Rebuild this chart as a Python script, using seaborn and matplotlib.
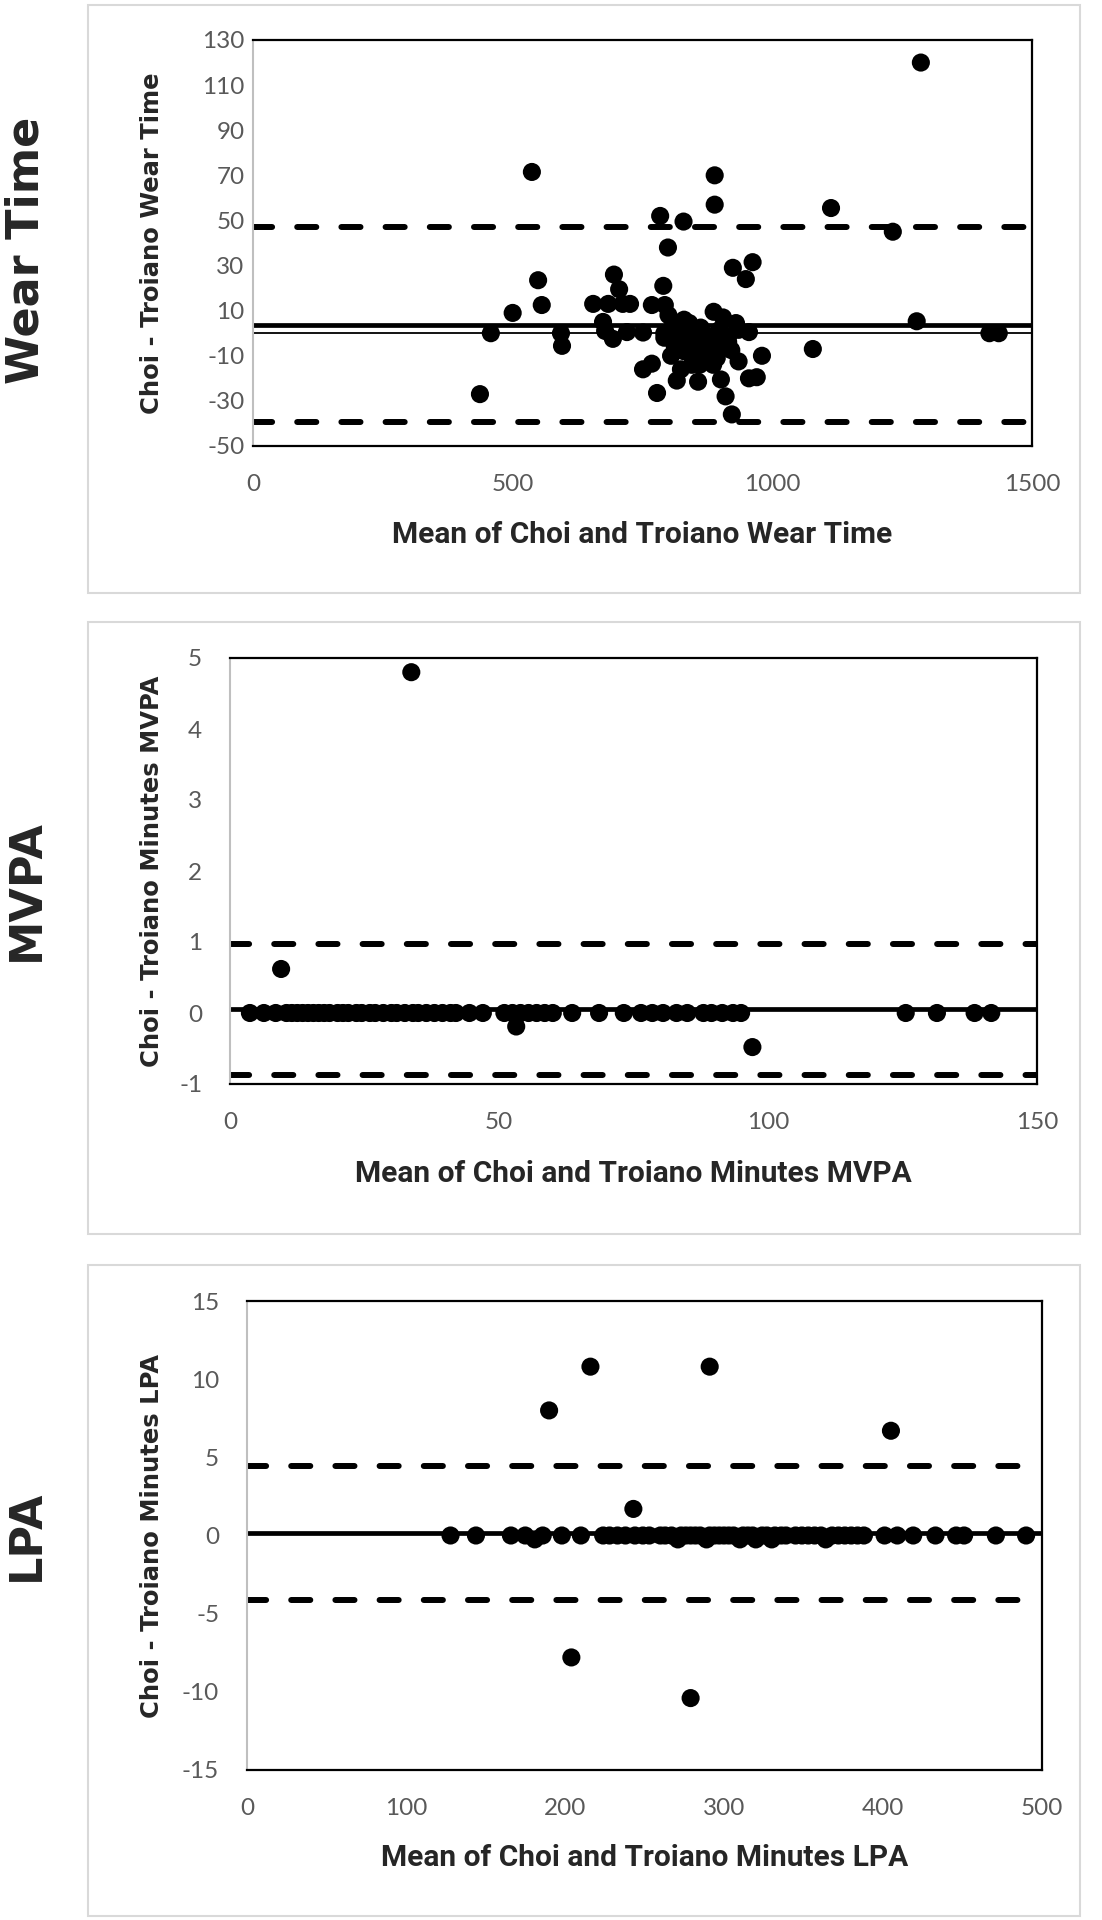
import numpy as np
import pandas as pd
import matplotlib
matplotlib.use("Agg")
import matplotlib.pyplot as plt
from matplotlib.patches import Rectangle
import seaborn as sns

# ---------------- datos ----------------
# Wear Time
wt_mean = [1286, 537, 889, 889, 784, 829, 1113, 1232, 799, 924, 962, 949, 549, 556, 500,
           458, 593, 595, 437, 695, 705, 655, 684, 712, 726, 674, 678, 693, 720, 751,
           768, 790, 793, 751, 768, 778, 816, 857, 824, 805, 800, 830, 792, 887, 898,
           930, 955, 901, 886, 910, 922, 935, 955, 970, 980, 1078, 1278, 1418, 1436, 819,
           847, 853, 874, 901, 874, 840, 880, 915, 893, 860, 874, 812, 792, 935, 921,
           915, 840, 825, 862, 905, 868, 830, 845, 808]
wt_diff = [120, 71.5, 70, 57, 52, 49.5, 55.5, 45, 38, 29, 31.5, 24, 23.5, 12.5, 9,
           0, 0, -5.6, -27, 26, 19.5, 13, 13, 13, 13, 5, 1, -2.5, 0.5, 0.3,
           12.5, 21, 12.5, -16, -13.5, -26.5, -21, -21.5, -16, -10, 8, 6, 0, 9.5, 1.4,
           4.5, 0.5, -20.5, -14, -28, -36, -12.5, -20, -19.5, -10, -7, 5.3, 0, 0, -3,
           -5.5, -11, -7.5, -5.5, -2, 0.5, -1.5, -4, -11, -14, -11.5, -5.5, -2, 1.5, -7.5,
           -1.5, 4.5, 2, 2.5, 7, -0.5, -8, -14, 3]
wt_bias, wt_upper, wt_lower = 3.8, 47.3, -39.3

# MVPA
mvpa_mean = [3.7, 6.3, 8.5, 10.5, 11.5, 12.5, 13.5, 14.5, 15.5, 16.5, 17.5, 18.5, 20, 21,
             22, 23.5, 24.5, 26, 27, 28.5, 30, 31, 32.5, 34, 35, 36.5, 38, 39.5, 41, 42,
             44.5, 47, 51, 52.5, 54, 55.5, 57, 58.5, 60, 63.6, 68.6, 73.2, 76.4, 78.5, 80.5,
             83, 85, 88, 89.5, 91.5, 93.5, 95, 125.6, 131.4, 138.4, 141.5,
             33.7, 9.5, 53.2, 97.1]
mvpa_diff = [0] * 56 + [4.8, 0.62, -0.19, -0.48]
mvpa_bias, mvpa_upper, mvpa_lower = 0.05, 0.97, -0.87

# LPA
lpa_mean = [128, 144, 166, 175, 181, 186, 198, 210, 224, 228, 233, 238, 244, 249, 253, 260,
            263, 267, 271, 273, 276, 279, 282, 285, 289, 291, 294, 297, 300, 303, 306, 310,
            312, 315, 318, 320, 324, 327, 330, 332, 336, 339, 345, 349, 353, 357, 361, 364,
            368, 372, 376, 380, 384, 388, 401, 409, 419, 433, 446, 451, 471, 490,
            190, 216, 291, 405, 243, 204, 279]
lpa_diff = [0, 0, 0, 0, -0.25, 0, 0, 0, 0, 0, 0, 0, 0, 0, 0, 0,
            0, 0, -0.25, 0, 0, 0, 0, 0, -0.25, 0, 0, 0, 0, 0, 0, -0.25,
            0, 0, 0, -0.25, 0, 0, -0.25, 0, 0, 0, 0, 0, 0, 0, 0, -0.25,
            0, 0, 0, 0, 0, 0, 0, 0, 0, 0, 0, 0, 0, 0,
            8.0, 10.8, 10.8, 6.7, 1.7, -7.8, -10.4]
lpa_bias, lpa_upper, lpa_lower = 0.15, 4.45, -4.15

paneles = [
    dict(nombre="Wear Time", x=wt_mean, y=wt_diff, bias=wt_bias, up=wt_upper, lo=wt_lower,
         xlab="Mean of Choi and Troiano Wear Time", ylab="Choi - Troiano Wear Time",
         xlim=(0, 1500), xticks=[0, 500, 1000, 1500],
         ylim=(-50, 130), yticks=list(range(-50, 131, 20)), cero=True),
    dict(nombre="MVPA", x=mvpa_mean, y=mvpa_diff, bias=mvpa_bias, up=mvpa_upper, lo=mvpa_lower,
         xlab="Mean of Choi and Troiano Minutes MVPA", ylab="Choi - Troiano Minutes MVPA",
         xlim=(0, 150), xticks=[0, 50, 100, 150],
         ylim=(-1, 5), yticks=[-1, 0, 1, 2, 3, 4, 5], cero=False),
    dict(nombre="LPA", x=lpa_mean, y=lpa_diff, bias=lpa_bias, up=lpa_upper, lo=lpa_lower,
         xlab="Mean of Choi and Troiano Minutes LPA", ylab="Choi - Troiano Minutes LPA",
         xlim=(0, 500), xticks=[0, 100, 200, 300, 400, 500],
         ylim=(-15, 15), yticks=[-15, -10, -5, 0, 5, 10, 15], cero=False),
]

# ---------------- layout (pixeles) ----------------
W, H = 1102, 1920
ejes_px = [(253, 40, 1032, 446), (230, 658, 1037, 1084), (247, 1301, 1042, 1770)]
marcos_px = [(88, 5, 1080, 593), (88, 622, 1080, 1234), (88, 1265, 1080, 1916)]
titulo_y = [250, 890, 1535]
xlab_y = [535, 1174, 1858]
ypad = [6, 20, 20]

sns.set_theme(style="white")
plt.rcParams["font.family"] = ["DejaVu Sans"]
plt.rcParams["axes.unicode_minus"] = False

fig = plt.figure(figsize=(W / 100, H / 100), dpi=100)
fig.patch.set_facecolor("white")

for i, p in enumerate(paneles):
    # marco gris del panel
    l, t, r, b = marcos_px[i]
    fig.patches.append(Rectangle((l / W, 1 - b / H), (r - l) / W, (b - t) / H,
                                 transform=fig.transFigure, fill=False,
                                 edgecolor="#d9d9d9", linewidth=1.5))
    l, t, r, b = ejes_px[i]
    ax = fig.add_axes([l / W, 1 - b / H, (r - l) / W, (b - t) / H])

    # limites de acuerdo y sesgo
    ax.axhline(p["up"], color="black", lw=4.3, ls=(0, (3.2, 4.2)), dash_capstyle="round", zorder=2)
    ax.axhline(p["lo"], color="black", lw=4.3, ls=(0, (3.2, 4.2)), dash_capstyle="round", zorder=2)
    if p["cero"]:
        ax.axhline(0, color="black", lw=1.3, zorder=2)
    ax.axhline(p["bias"], color="black", lw=3.4, zorder=2)

    df = pd.DataFrame({"m": p["x"], "d": p["y"]})
    sns.scatterplot(data=df, x="m", y="d", ax=ax, color="black", s=170,
                    edgecolor="none", linewidth=0, zorder=3, clip_on=False)

    ax.set_xlim(*p["xlim"])
    ax.set_ylim(*p["ylim"])
    ax.set_xticks(p["xticks"])
    ax.set_yticks(p["yticks"])
    ax.tick_params(length=0, labelsize=17.5, labelcolor="#595959")
    ax.tick_params(axis="x", pad=20)
    ax.tick_params(axis="y", pad=ypad[i])
    for lab in ax.get_xticklabels() + ax.get_yticklabels():
        lab.set_family(["Lato", "DejaVu Sans"])

    for lado in ["top", "right", "bottom"]:
        ax.spines[lado].set_color("black")
        ax.spines[lado].set_linewidth(1.6)
    ax.spines["left"].set_color("#bfbfbf")
    ax.spines["left"].set_linewidth(1.5)

    ax.set_xlabel(p["xlab"], fontsize=21.5, fontweight="bold", family=["Roboto", "DejaVu Sans"])
    ax.xaxis.set_label_coords(0.5, (b - xlab_y[i]) / (b - t))
    ax.xaxis.label.set_va("center")
    ax.set_ylabel(p["ylab"], fontsize=17.5, fontweight="bold")
    ax.yaxis.set_label_coords((152 - l) / (r - l), 0.5)
    ax.yaxis.label.set_va("center")

    fig.text(26 / W, 1 - titulo_y[i] / H, p["nombre"], rotation=90, fontsize=32,
             fontweight="bold", ha="center", va="center")

fig.savefig("out.png", dpi=100, facecolor="white")
